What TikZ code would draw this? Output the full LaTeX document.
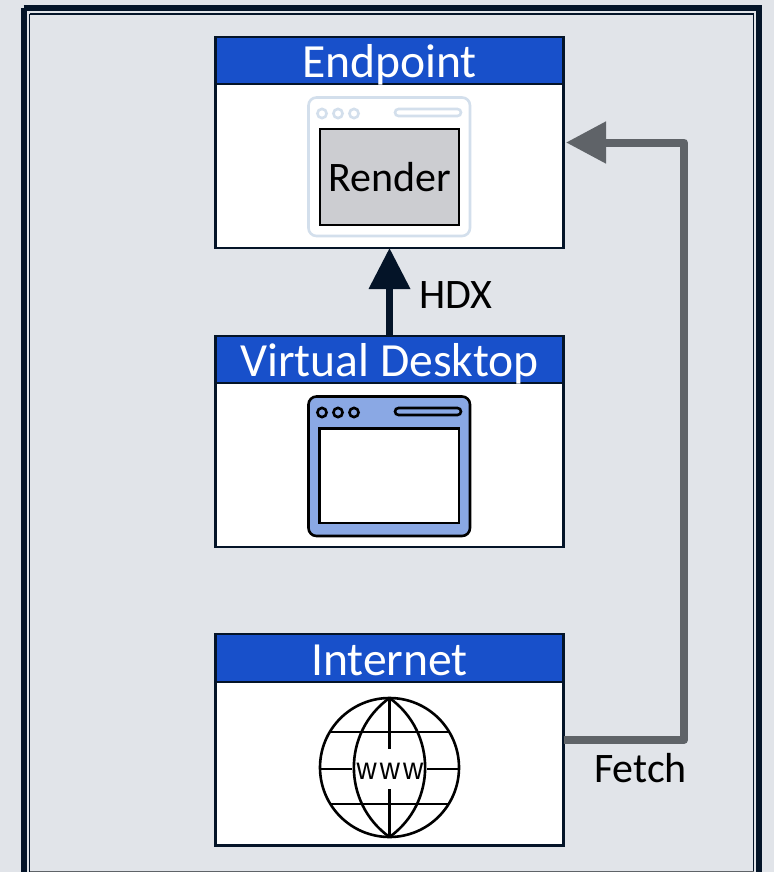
\documentclass[tikz,border=0pt]{standalone}
\usepackage{fontspec}
\setmainfont{Carlito}
\newfontfamily\wwwfont[LetterSpace=10,FakeStretch=0.9]{Liberation Sans}
\usetikzlibrary{arrows.meta,positioning}
\definecolor{bgc}{HTML}{E1E4E9}
\definecolor{framec}{HTML}{041428}
\definecolor{headc}{HTML}{1850CA}
\definecolor{arrowg}{HTML}{5F6368}
\definecolor{ghost}{HTML}{D3DFEC}
\definecolor{winblue}{HTML}{8AA8E4}
\definecolor{rendc}{HTML}{CCCDD1}
\tikzset{
  x=1pt,y=-1pt,
  panel/.style={draw=framec,line width=2.2pt,fill=white,minimum width=348pt,minimum height=211pt,inner sep=0pt,outer sep=0pt},
  header/.style={draw=framec,line width=2.2pt,fill=headc,text=white,minimum width=348pt,inner sep=0pt,outer sep=0pt,font=\fontsize{47.6}{48}\selectfont},
  lbl/.style={inner sep=0pt,text=black,font=\fontsize{42}{42}\selectfont},
  ghostline/.style={draw=ghost,line width=2.6pt},
  darkline/.style={draw=black,line width=2.6pt},
  hdx/.style={draw=framec,line width=7pt,-{Triangle[length=41pt,width=40pt]}},
  fetch/.style={draw=arrowg,line width=8pt,line join=round,-{Triangle[length=40pt,width=40pt]},shorten >=2.5pt},
  globe/.style={draw=black,line width=2.6pt},
}
\begin{document}
\begin{tikzpicture}
\useasboundingbox (0,0) rectangle (774,872);
\fill[bgc] (0,0) rectangle (774,872);
% outer frame
\path[draw=framec,line width=6pt] (23.5,8) -- (759,8) -- (759,880) (23.5,8) -- (23.5,880);
\path[draw=framec,line width=1.6pt] (29.5,14) -- (753.5,14) -- (753.5,880) (29.5,14) -- (29.5,880);
\draw[draw=arrowg,line width=1pt] (29.5,871.5) -- (753.5,871.5);

% panels
\node[panel] (ep) at (389.5,142.5) {};
\node[panel] (vd) at (389.5,441.5) {};
\node[panel] (inet) at (389.5,740) {};

% endpoint icon
\draw[ghostline,fill=white,rounded corners=8pt] (308.5,97.5) rectangle (470,236);
\draw[ghostline] (322,113.5) circle (4.6);
\draw[ghostline] (338,113.5) circle (4.6);
\draw[ghostline] (354,113.5) circle (4.6);
\draw[ghostline,rounded corners=3.5pt] (395,109) rectangle (461,116);
\node[draw=black,line width=2.4pt,fill=rendc,minimum width=139pt,minimum height=96pt,inner sep=0pt,outer sep=0pt,font=\fontsize{42}{42}\selectfont] (render) at (389.5,177) {Render};

% virtual desktop icon
\draw[darkline,fill=winblue,rounded corners=8pt] (308.5,396.5) rectangle (470,536);
\draw[darkline] (322,412.5) circle (4.6);
\draw[darkline] (338,412.5) circle (4.6);
\draw[darkline] (354,412.5) circle (4.6);
\draw[darkline,rounded corners=3.5pt] (395,408) rectangle (461,415);
\draw[darkline,fill=white] (319.5,428.5) rectangle (459,523);

% globe
\draw[globe] (389.5,767.5) circle (69.5);
\draw[globe] (389.5,698) .. controls (342,732) and (342,803) .. (389.5,837);
\draw[globe] (389.5,698) .. controls (437,732) and (437,803) .. (389.5,837);
\draw[globe] (331,732) -- (448,732);
\draw[globe] (331,804) -- (448,804);
\draw[globe] (320,769) -- (352,769);
\draw[globe] (427,769) -- (458,769);
\draw[globe] (389.5,698) -- (389.5,749);
\draw[globe] (389.5,789) -- (389.5,837);
\node[inner sep=0pt,font=\wwwfont\fontsize{31}{31}\selectfont] (www) at (390,771) {www};

% headers
\node[header,text height=41pt,text depth=6pt] (eph) at (389.5,60.5) {Endpoint};
\node[header,text height=40pt,text depth=7pt] (vdh) at (389.5,359.5) {Virtual Desktop};
\node[header,text height=41pt,text depth=7pt] (ineth) at (389.5,658) {Internet};

% connectors
\coordinate (c1) at (684,740);
\coordinate (c2) at (684,142.5);
\draw[fetch] (inet.east) -- (c1) -- (c2) -- (ep.east);
\draw[hdx] (vd.north) -- (ep.south);

% labels
\node[lbl] (hdxl) at (456,295) {HDX};
\node[lbl] (fetchl) at (640.5,768) {Fetch};
\end{tikzpicture}
\end{document}
